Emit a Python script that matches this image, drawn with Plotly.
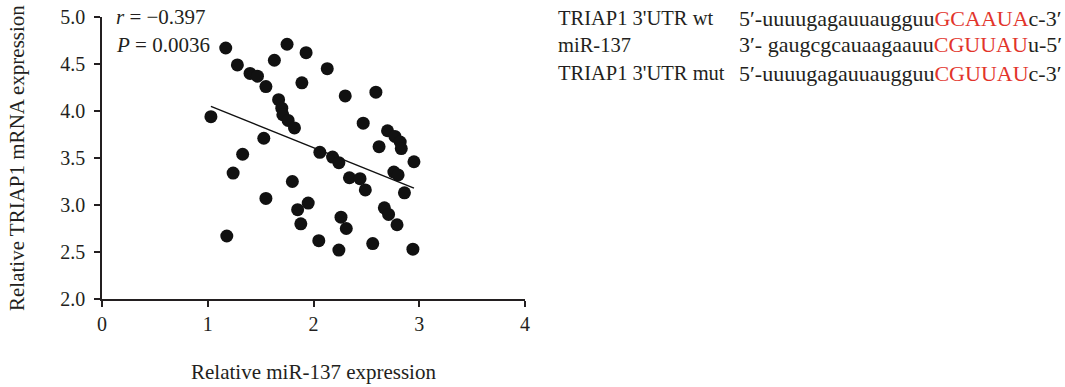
import plotly.graph_objects as go

# Relative miR-137 vs TRIAP1 mRNA expression, one point per sample
mir137 = [1.03, 1.17, 1.28, 1.40, 1.47, 1.55, 1.63, 1.75, 1.93, 1.89,
          1.67, 1.70, 1.71, 1.76, 1.82, 1.53, 1.33, 1.24, 1.80, 1.55,
          1.95, 1.85, 1.88, 1.18, 2.05, 2.06, 2.18, 2.24, 2.34, 2.44,
          2.49, 2.26, 2.31, 2.24, 2.13, 2.30, 2.59, 2.47, 2.62, 2.70,
          2.77, 2.82, 2.83, 2.95, 2.76, 2.80, 2.86, 2.67, 2.71, 2.79,
          2.56, 2.94]
triap1 = [3.94, 4.67, 4.49, 4.40, 4.37, 4.26, 4.54, 4.71, 4.62, 4.30,
          4.12, 4.03, 3.96, 3.90, 3.82, 3.71, 3.54, 3.34, 3.25, 3.07,
          3.02, 2.95, 2.80, 2.67, 2.62, 3.56, 3.51, 3.45, 3.29, 3.28,
          3.16, 2.87, 2.75, 2.52, 4.45, 4.16, 4.20, 3.87, 3.62, 3.79,
          3.73, 3.67, 3.60, 3.46, 3.35, 3.32, 3.13, 2.97, 2.90, 2.79,
          2.59, 2.53]

# Least-squares fit line endpoints
fit_x = [1.03, 2.95]
fit_y = [4.05, 3.18]

x_ticks = [0, 1, 2, 3, 4]
y_ticks = [2.0, 2.5, 3.0, 3.5, 4.0, 4.5, 5.0]
y_tick_text = ["2.0", "2.5", "3.0", "3.5", "4.0", "4.5", "5.0"]

stats_r = "−0.397"
stats_p = "0.0036"

seq_labels = ["TRIAP1 3'UTR wt", "miR-137", "TRIAP1 3'UTR mut"]
seq_5 = ["5′-uuuugagauuaugguu", "3′- gaugcgcauaagaauu", "5′-uuuugagauuaugguu"]
seq_site = ["GCAAUA", "CGUUAU", "CGUUAU"]
seq_3 = ["c-3′", "u-5′", "c-3′"]

FONT = "Liberation Serif"
INK = "#231f20"
RED = "#e2342b"

fig = go.Figure()
fig.add_trace(go.Scatter(
    x=mir137, y=triap1, mode="markers",
    marker=dict(size=13, color="#111111", line=dict(width=0)),
    showlegend=False, hoverinfo="x+y",
))
fig.add_trace(go.Scatter(
    x=fit_x, y=fit_y, mode="lines",
    line=dict(color="#111111", width=1.4),
    showlegend=False, hoverinfo="skip",
))

axis_common = dict(
    showgrid=False, zeroline=False, showline=True, linecolor=INK, linewidth=1.5,
    ticks="outside", ticklen=6, tickwidth=1.5, tickcolor=INK, automargin=False,
    tickfont=dict(family=FONT, size=20, color=INK),
)
fig.update_xaxes(range=[0, 4], tickvals=x_ticks, **axis_common)
fig.update_yaxes(range=[2, 5], tickvals=y_ticks, ticktext=y_tick_text,
                 ticklabelstandoff=5, **axis_common)

annotations = [
    dict(text="Relative miR-137 expression", x=0.5, y=-0.259, xref="paper", yref="paper",
         xanchor="center", yanchor="middle", showarrow=False,
         font=dict(family=FONT, size=21, color=INK)),
    dict(text="Relative TRIAP1 mRNA expression", x=-0.201, y=0.5, xref="paper", yref="paper",
         xanchor="center", yanchor="middle", textangle=-90, showarrow=False,
         font=dict(family=FONT, size=21, color=INK)),
    dict(text="<i>r</i> = " + stats_r, x=0.028, y=1.0, xref="paper", yref="paper",
         xanchor="left", yanchor="middle", showarrow=False,
         font=dict(family=FONT, size=21, color=INK)),
    dict(text="<i>P</i> = " + stats_p, x=0.028, y=0.901, xref="paper", yref="paper",
         xanchor="left", yanchor="middle", showarrow=False,
         font=dict(family=FONT, size=21, color=INK)),
]

row_y = [0.996, 0.901, 0.801]
for label, a, site, b, yy in zip(seq_labels, seq_5, seq_site, seq_3, row_y):
    annotations.append(dict(
        text=label, x=1.074, y=yy, xref="paper", yref="paper",
        xanchor="left", yanchor="middle", showarrow=False,
        font=dict(family=FONT, size=20.5, color=INK)))
    annotations.append(dict(
        text=a + "<span style='color:" + RED + "'>" + site + "</span>" + b,
        x=1.500, y=yy, xref="paper", yref="paper",
        xanchor="left", yanchor="middle", showarrow=False,
        font=dict(family=FONT, size=22, color=INK)))

fig.update_layout(
    width=1065, height=387,
    margin=dict(l=102, r=540, t=17, b=88),
    paper_bgcolor="white", plot_bgcolor="white",
    annotations=annotations,
)

fig.write_html("out.html")
